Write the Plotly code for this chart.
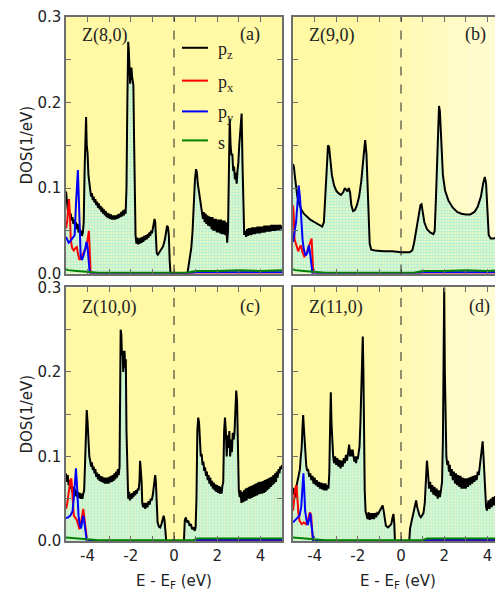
import plotly.graph_objects as go

# ---------------- data (E - E_F in eV, DOS in 1/eV) ----------------
a_pz = [(-5.0, 0.096), (-4.97, 0.088), (-4.93, 0.076), (-4.9, 0.07), (-4.86, 0.075), (-4.82, 0.065), (-4.78, 0.07),
        (-4.74, 0.062), (-4.7, 0.066), (-4.66, 0.058), (-4.62, 0.063), (-4.58, 0.056), (-4.54, 0.06), (-4.5, 0.052),
        (-4.46, 0.058), (-4.42, 0.048), (-4.38, 0.053), (-4.34, 0.046), (-4.3, 0.05), (-4.26, 0.044), (-4.22, 0.048),
        (-4.18, 0.06), (-4.14, 0.12), (-4.1, 0.16), (-4.07, 0.183), (-4.04, 0.15), (-4.0, 0.14), (-3.96, 0.115),
        (-3.92, 0.1), (-3.88, 0.098), (-3.84, 0.09), (-3.8, 0.094), (-3.76, 0.086), (-3.72, 0.09), (-3.68, 0.083),
        (-3.64, 0.087), (-3.6, 0.08), (-3.56, 0.084), (-3.52, 0.077), (-3.48, 0.082), (-3.44, 0.075), (-3.4, 0.079),
        (-3.36, 0.072), (-3.32, 0.077), (-3.28, 0.07), (-3.24, 0.075), (-3.2, 0.068), (-3.16, 0.073), (-3.12, 0.066),
        (-3.08, 0.071), (-3.04, 0.065), (-3.0, 0.07), (-2.96, 0.064), (-2.92, 0.069), (-2.88, 0.063), (-2.84, 0.068),
        (-2.8, 0.063), (-2.76, 0.068), (-2.72, 0.063), (-2.68, 0.068), (-2.64, 0.064), (-2.6, 0.069), (-2.56, 0.065),
        (-2.52, 0.07), (-2.48, 0.066), (-2.44, 0.072), (-2.4, 0.067), (-2.36, 0.074), (-2.32, 0.068), (-2.28, 0.075),
        (-2.24, 0.07), (-2.2, 0.1), (-2.16, 0.2), (-2.12, 0.271), (-2.09, 0.26), (-2.06, 0.23), (-2.03, 0.222),
        (-2.0, 0.235), (-1.97, 0.241), (-1.94, 0.23), (-1.91, 0.225), (-1.88, 0.22), (-1.85, 0.16), (-1.82, 0.08),
        (-1.78, 0.045), (-1.74, 0.035), (-1.7, 0.042), (-1.66, 0.034), (-1.62, 0.041), (-1.58, 0.035), (-1.54, 0.042),
        (-1.5, 0.036), (-1.46, 0.043), (-1.42, 0.037), (-1.38, 0.044), (-1.34, 0.039), (-1.3, 0.045), (-1.26, 0.04),
        (-1.22, 0.046), (-1.18, 0.042), (-1.14, 0.048), (-1.1, 0.044), (-1.06, 0.05), (-1.02, 0.047), (-0.98, 0.053),
        (-0.94, 0.057), (-0.9, 0.064), (-0.87, 0.06), (-0.84, 0.04), (-0.8, 0.024), (-0.75, 0.022), (-0.7, 0.024),
        (-0.6, 0.027), (-0.5, 0.032), (-0.42, 0.04), (-0.36, 0.05), (-0.32, 0.056), (-0.28, 0.054), (-0.24, 0.045),
        (-0.2, 0.015), (-0.16, 0.0), (0.62, 0.0), (0.68, 0.01), (0.74, 0.02), (0.8, 0.03), (0.86, 0.05), (0.92, 0.085),
        (0.97, 0.11), (1.02, 0.122), (1.06, 0.118), (1.1, 0.105), (1.15, 0.095), (1.2, 0.085), (1.25, 0.076),
        (1.3, 0.07), (1.34, 0.064), (1.38, 0.072), (1.42, 0.06), (1.46, 0.07), (1.5, 0.058), (1.54, 0.068),
        (1.58, 0.056), (1.62, 0.067), (1.66, 0.055), (1.7, 0.066), (1.74, 0.052), (1.78, 0.066), (1.82, 0.05),
        (1.86, 0.064), (1.9, 0.05), (1.94, 0.064), (1.98, 0.048), (2.02, 0.063), (2.06, 0.048), (2.1, 0.063),
        (2.14, 0.047), (2.18, 0.063), (2.22, 0.046), (2.26, 0.062), (2.3, 0.046), (2.34, 0.062), (2.38, 0.045),
        (2.42, 0.06), (2.46, 0.036), (2.5, 0.05), (2.54, 0.15), (2.58, 0.181), (2.62, 0.15), (2.66, 0.138),
        (2.7, 0.14), (2.74, 0.12), (2.78, 0.125), (2.82, 0.11), (2.86, 0.118), (2.9, 0.105), (2.94, 0.12),
        (2.98, 0.13), (3.02, 0.15), (3.06, 0.165), (3.1, 0.175), (3.13, 0.187), (3.17, 0.13), (3.21, 0.07),
        (3.25, 0.045), (3.3, 0.05), (3.34, 0.043), (3.38, 0.052), (3.42, 0.044), (3.46, 0.053), (3.5, 0.045),
        (3.54, 0.053), (3.58, 0.045), (3.62, 0.054), (3.66, 0.046), (3.7, 0.054), (3.74, 0.046), (3.78, 0.054),
        (3.82, 0.047), (3.86, 0.055), (3.9, 0.047), (3.94, 0.055), (3.98, 0.047), (4.02, 0.055), (4.06, 0.048),
        (4.1, 0.055), (4.14, 0.048), (4.18, 0.056), (4.22, 0.048), (4.26, 0.056), (4.3, 0.049), (4.34, 0.056),
        (4.38, 0.049), (4.42, 0.056), (4.46, 0.049), (4.5, 0.057), (4.54, 0.05), (4.58, 0.057), (4.62, 0.05),
        (4.66, 0.057), (4.7, 0.05), (4.74, 0.057), (4.78, 0.051), (4.82, 0.057), (4.86, 0.051), (4.9, 0.057),
        (4.94, 0.052), (5.0, 0.056)]
a_px = [(-5.0, 0.053), (-4.95, 0.06), (-4.9, 0.075), (-4.86, 0.087), (-4.82, 0.07), (-4.78, 0.04), (-4.72, 0.03),
        (-4.64, 0.027), (-4.56, 0.03), (-4.5, 0.031), (-4.45, 0.024), (-4.38, 0.016), (-4.3, 0.018), (-4.24, 0.021),
        (-4.16, 0.025), (-4.08, 0.03), (-4.0, 0.04), (-3.94, 0.05), (-3.9, 0.025), (-3.86, 0.0), (0.7, 0.0),
        (1.0, 0.001), (5.0, 0.001)]
a_py = [(-5.0, 0.043), (-4.95, 0.04), (-4.88, 0.036), (-4.8, 0.038), (-4.7, 0.042), (-4.6, 0.045), (-4.54, 0.08),
        (-4.49, 0.112), (-4.45, 0.121), (-4.41, 0.09), (-4.37, 0.04), (-4.32, 0.02), (-4.26, 0.016), (-4.2, 0.02),
        (-4.12, 0.028), (-4.05, 0.037), (-4.0, 0.03), (-3.95, 0.01), (-3.9, 0.0), (0.7, 0.0), (1.0, 0.0015),
        (5.0, 0.0015)]
a_s = [(-5.0, 0.005), (-4.9, 0.004), (-4.5, 0.003), (-4.0, 0.002), (-3.5, 0.001), (0.6, 0.001), (1.0, 0.003),
       (2.0, 0.003), (3.0, 0.004), (4.0, 0.003), (5.0, 0.004)]

b_pz = [(-5.0, 0.128), (-4.96, 0.125), (-4.92, 0.115), (-4.86, 0.1), (-4.8, 0.09), (-4.72, 0.082), (-4.62, 0.075),
        (-4.5, 0.07), (-4.35, 0.066), (-4.2, 0.063), (-4.0, 0.06), (-3.8, 0.057), (-3.65, 0.055), (-3.57, 0.06),
        (-3.5, 0.09), (-3.44, 0.13), (-3.38, 0.15), (-3.33, 0.148), (-3.28, 0.135), (-3.2, 0.115), (-3.1, 0.103),
        (-3.0, 0.097), (-2.9, 0.094), (-2.78, 0.092), (-2.68, 0.095), (-2.6, 0.1), (-2.54, 0.098), (-2.48, 0.096),
        (-2.42, 0.1), (-2.36, 0.095), (-2.3, 0.08), (-2.22, 0.073), (-2.14, 0.074), (-2.04, 0.08), (-1.94, 0.09),
        (-1.84, 0.108), (-1.76, 0.13), (-1.7, 0.152), (-1.66, 0.156), (-1.6, 0.14), (-1.55, 0.1), (-1.5, 0.06),
        (-1.45, 0.035), (-1.38, 0.028), (-1.2, 0.027), (-0.8, 0.026), (-0.4, 0.026), (0.0, 0.025), (0.4, 0.025),
        (0.52, 0.027), (0.6, 0.035), (0.7, 0.05), (0.8, 0.065), (0.9, 0.08), (0.95, 0.081), (1.0, 0.07),
        (1.08, 0.06), (1.2, 0.052), (1.35, 0.048), (1.5, 0.046), (1.56, 0.05), (1.62, 0.09), (1.7, 0.15),
        (1.76, 0.196), (1.8, 0.19), (1.86, 0.15), (1.94, 0.115), (2.04, 0.097), (2.2, 0.085), (2.4, 0.077),
        (2.6, 0.072), (2.8, 0.07), (3.0, 0.069), (3.2, 0.069), (3.4, 0.072), (3.55, 0.078), (3.7, 0.09),
        (3.8, 0.105), (3.88, 0.113), (3.94, 0.105), (4.0, 0.07), (4.06, 0.045), (4.15, 0.041), (4.3, 0.041),
        (4.5, 0.043), (4.8, 0.042)]
b_px = [(-5.0, 0.08), (-4.97, 0.07), (-4.93, 0.04), (-4.88, 0.035), (-4.82, 0.03), (-4.76, 0.026), (-4.7, 0.03),
        (-4.64, 0.033), (-4.56, 0.025), (-4.48, 0.02), (-4.4, 0.022), (-4.3, 0.03), (-4.2, 0.038), (-4.14, 0.041),
        (-4.1, 0.02), (-4.06, 0.0), (0.7, 0.0), (1.0, 0.001), (4.8, 0.001)]
b_py = [(-5.0, 0.037), (-4.94, 0.045), (-4.86, 0.06), (-4.8, 0.08), (-4.74, 0.103), (-4.68, 0.09), (-4.62, 0.06),
        (-4.56, 0.04), (-4.5, 0.028), (-4.42, 0.021), (-4.34, 0.024), (-4.26, 0.033), (-4.2, 0.022), (-4.14, 0.005),
        (-4.1, 0.0), (0.6, 0.0), (1.0, 0.0015), (4.8, 0.0015)]
b_s = [(-5.0, 0.005), (-4.9, 0.004), (-4.5, 0.003), (-4.0, 0.002), (-3.5, 0.001), (0.6, 0.001), (1.0, 0.003),
       (2.0, 0.003), (3.0, 0.004), (4.0, 0.003), (4.8, 0.004)]

c_pz = [(-5.0, 0.08), (-4.96, 0.07), (-4.92, 0.078), (-4.88, 0.066), (-4.84, 0.072), (-4.8, 0.062), (-4.76, 0.068),
        (-4.72, 0.058), (-4.68, 0.064), (-4.64, 0.055), (-4.6, 0.062), (-4.56, 0.053), (-4.52, 0.06), (-4.48, 0.052),
        (-4.44, 0.058), (-4.4, 0.051), (-4.36, 0.057), (-4.32, 0.05), (-4.28, 0.056), (-4.24, 0.05), (-4.2, 0.056),
        (-4.16, 0.06), (-4.12, 0.09), (-4.08, 0.14), (-4.04, 0.155), (-4.0, 0.14), (-3.96, 0.11), (-3.92, 0.1),
        (-3.88, 0.095), (-3.84, 0.088), (-3.8, 0.093), (-3.76, 0.084), (-3.72, 0.088), (-3.68, 0.08), (-3.64, 0.085),
        (-3.6, 0.076), (-3.56, 0.081), (-3.52, 0.073), (-3.48, 0.079), (-3.44, 0.071), (-3.4, 0.077), (-3.36, 0.07),
        (-3.32, 0.076), (-3.28, 0.069), (-3.24, 0.075), (-3.2, 0.068), (-3.16, 0.075), (-3.12, 0.068), (-3.08, 0.075),
        (-3.04, 0.068), (-3.0, 0.076), (-2.96, 0.069), (-2.92, 0.077), (-2.88, 0.07), (-2.84, 0.078), (-2.8, 0.071),
        (-2.76, 0.08), (-2.72, 0.073), (-2.68, 0.082), (-2.64, 0.075), (-2.6, 0.085), (-2.56, 0.078), (-2.52, 0.088),
        (-2.5, 0.15), (-2.47, 0.25), (-2.44, 0.245), (-2.41, 0.22), (-2.38, 0.225), (-2.35, 0.2), (-2.32, 0.22),
        (-2.29, 0.225), (-2.26, 0.205), (-2.23, 0.215), (-2.2, 0.13), (-2.16, 0.07), (-2.12, 0.05), (-2.08, 0.058),
        (-2.04, 0.048), (-2.0, 0.056), (-1.96, 0.05), (-1.92, 0.057), (-1.88, 0.052), (-1.84, 0.059), (-1.8, 0.054),
        (-1.76, 0.06), (-1.72, 0.056), (-1.68, 0.062), (-1.64, 0.06), (-1.6, 0.07), (-1.57, 0.095), (-1.54, 0.085),
        (-1.5, 0.07), (-1.47, 0.045), (-1.43, 0.04), (-1.38, 0.045), (-1.33, 0.038), (-1.28, 0.045), (-1.23, 0.04),
        (-1.18, 0.047), (-1.13, 0.043), (-1.08, 0.05), (-1.03, 0.048), (-0.98, 0.055), (-0.94, 0.062), (-0.9, 0.075),
        (-0.87, 0.078), (-0.84, 0.07), (-0.8, 0.04), (-0.76, 0.022), (-0.7, 0.017), (-0.64, 0.016), (-0.58, 0.02),
        (-0.52, 0.025), (-0.48, 0.03), (-0.44, 0.025), (-0.4, 0.01), (-0.36, 0.0), (0.46, 0.0), (0.5, 0.025),
        (0.55, 0.028), (0.6, 0.022), (0.66, 0.024), (0.72, 0.018), (0.78, 0.02), (0.84, 0.014), (0.9, 0.016),
        (0.96, 0.012), (1.0, 0.016), (1.04, 0.05), (1.08, 0.13), (1.12, 0.146), (1.16, 0.14), (1.2, 0.115),
        (1.24, 0.1), (1.28, 0.103), (1.32, 0.09), (1.36, 0.094), (1.4, 0.083), (1.44, 0.087), (1.48, 0.077),
        (1.52, 0.082), (1.56, 0.072), (1.6, 0.078), (1.64, 0.068), (1.68, 0.075), (1.72, 0.065), (1.76, 0.071),
        (1.8, 0.062), (1.84, 0.069), (1.88, 0.06), (1.92, 0.067), (1.96, 0.058), (2.0, 0.066), (2.04, 0.057),
        (2.08, 0.065), (2.12, 0.056), (2.16, 0.064), (2.2, 0.056), (2.24, 0.065), (2.28, 0.07), (2.32, 0.13),
        (2.36, 0.146), (2.4, 0.13), (2.44, 0.1), (2.48, 0.125), (2.52, 0.11), (2.56, 0.13), (2.6, 0.1),
        (2.64, 0.12), (2.68, 0.105), (2.72, 0.128), (2.76, 0.12), (2.8, 0.128), (2.84, 0.15), (2.88, 0.178),
        (2.92, 0.165), (2.96, 0.11), (3.0, 0.06), (3.04, 0.052), (3.08, 0.06), (3.12, 0.045), (3.16, 0.058),
        (3.2, 0.046), (3.24, 0.06), (3.28, 0.047), (3.32, 0.062), (3.36, 0.048), (3.4, 0.063), (3.44, 0.05),
        (3.48, 0.064), (3.52, 0.05), (3.56, 0.065), (3.6, 0.051), (3.64, 0.066), (3.68, 0.052), (3.72, 0.067),
        (3.76, 0.053), (3.8, 0.068), (3.84, 0.054), (3.88, 0.069), (3.92, 0.055), (3.96, 0.07), (4.0, 0.056),
        (4.04, 0.07), (4.08, 0.056), (4.12, 0.071), (4.16, 0.057), (4.2, 0.072), (4.24, 0.058), (4.28, 0.073),
        (4.32, 0.06), (4.36, 0.074), (4.4, 0.062), (4.44, 0.075), (4.48, 0.064), (4.52, 0.076), (4.56, 0.066),
        (4.6, 0.078), (4.64, 0.068), (4.68, 0.08), (4.72, 0.07), (4.76, 0.082), (4.8, 0.075), (4.84, 0.085),
        (4.88, 0.08), (4.92, 0.088), (4.96, 0.085), (5.0, 0.09)]
c_px = [(-5.0, 0.038), (-4.94, 0.045), (-4.86, 0.06), (-4.8, 0.072), (-4.75, 0.074), (-4.7, 0.05), (-4.64, 0.03),
        (-4.58, 0.028), (-4.5, 0.025), (-4.44, 0.02), (-4.38, 0.014), (-4.32, 0.02), (-4.26, 0.03), (-4.2, 0.038),
        (-4.14, 0.025), (-4.08, 0.01), (-4.02, 0.0), (0.9, 0.0), (1.1, 0.001), (5.0, 0.001)]
c_py = [(-5.0, 0.027), (-4.9, 0.028), (-4.8, 0.03), (-4.7, 0.035), (-4.64, 0.05), (-4.58, 0.075), (-4.54, 0.086),
        (-4.5, 0.07), (-4.46, 0.045), (-4.42, 0.03), (-4.36, 0.018), (-4.3, 0.015), (-4.24, 0.025), (-4.2, 0.03),
        (-4.14, 0.02), (-4.08, 0.005), (-4.04, 0.0), (0.9, 0.0), (1.1, 0.0015), (5.0, 0.0015)]
c_s = [(-5.0, 0.004), (-4.5, 0.003), (-4.0, 0.002), (-3.5, 0.001), (0.9, 0.001), (1.1, 0.003), (2.0, 0.003),
       (3.0, 0.003), (4.0, 0.003), (5.0, 0.003)]

d_pz = [(-5.0, 0.063), (-4.96, 0.055), (-4.92, 0.062), (-4.88, 0.052), (-4.84, 0.065), (-4.8, 0.07), (-4.76, 0.075),
        (-4.72, 0.082), (-4.68, 0.085), (-4.64, 0.1), (-4.6, 0.11), (-4.56, 0.135), (-4.53, 0.149), (-4.5, 0.135),
        (-4.47, 0.12), (-4.43, 0.1), (-4.39, 0.09), (-4.35, 0.083), (-4.3, 0.085), (-4.25, 0.076), (-4.2, 0.08),
        (-4.15, 0.072), (-4.1, 0.077), (-4.05, 0.068), (-4.0, 0.075), (-3.95, 0.066), (-3.9, 0.072), (-3.85, 0.064),
        (-3.8, 0.07), (-3.75, 0.062), (-3.7, 0.069), (-3.65, 0.061), (-3.6, 0.068), (-3.55, 0.06), (-3.5, 0.068),
        (-3.45, 0.06), (-3.4, 0.066), (-3.36, 0.062), (-3.32, 0.08), (-3.28, 0.14), (-3.25, 0.176), (-3.22, 0.14),
        (-3.18, 0.105), (-3.14, 0.1), (-3.1, 0.092), (-3.05, 0.1), (-3.0, 0.09), (-2.95, 0.098), (-2.9, 0.088),
        (-2.85, 0.096), (-2.8, 0.086), (-2.75, 0.095), (-2.7, 0.088), (-2.65, 0.098), (-2.6, 0.092), (-2.55, 0.102),
        (-2.5, 0.095), (-2.45, 0.108), (-2.4, 0.114), (-2.36, 0.1), (-2.32, 0.108), (-2.28, 0.1), (-2.24, 0.108),
        (-2.2, 0.1), (-2.16, 0.094), (-2.12, 0.1), (-2.08, 0.092), (-2.04, 0.1), (-2.0, 0.097), (-1.96, 0.105),
        (-1.92, 0.112), (-1.88, 0.14), (-1.84, 0.17), (-1.8, 0.215), (-1.77, 0.242), (-1.74, 0.2), (-1.71, 0.12),
        (-1.68, 0.06), (-1.64, 0.035), (-1.6, 0.032), (-1.55, 0.026), (-1.5, 0.034), (-1.45, 0.025), (-1.4, 0.033),
        (-1.35, 0.026), (-1.3, 0.033), (-1.25, 0.026), (-1.2, 0.033), (-1.15, 0.028), (-1.1, 0.033), (-1.05, 0.032),
        (-1.0, 0.035), (-0.95, 0.038), (-0.9, 0.04), (-0.85, 0.042), (-0.8, 0.035), (-0.75, 0.022), (-0.7, 0.018),
        (-0.6, 0.016), (-0.5, 0.018), (-0.45, 0.02), (-0.4, 0.027), (-0.35, 0.032), (-0.31, 0.02), (-0.28, 0.0),
        (0.38, 0.0), (0.42, 0.015), (0.48, 0.022), (0.54, 0.03), (0.6, 0.036), (0.65, 0.044), (0.7, 0.048),
        (0.75, 0.04), (0.8, 0.035), (0.86, 0.03), (0.92, 0.028), (0.98, 0.03), (1.04, 0.033), (1.1, 0.045),
        (1.15, 0.08), (1.2, 0.095), (1.25, 0.08), (1.3, 0.062), (1.35, 0.07), (1.4, 0.058), (1.45, 0.066),
        (1.5, 0.055), (1.55, 0.064), (1.6, 0.053), (1.65, 0.062), (1.7, 0.05), (1.75, 0.06), (1.8, 0.052),
        (1.85, 0.06), (1.9, 0.07), (1.94, 0.12), (1.97, 0.2), (2.0, 0.3), (2.03, 0.2), (2.06, 0.14), (2.1, 0.1),
        (2.14, 0.09), (2.18, 0.095), (2.22, 0.082), (2.26, 0.09), (2.3, 0.077), (2.35, 0.085), (2.4, 0.072),
        (2.45, 0.082), (2.5, 0.068), (2.55, 0.08), (2.6, 0.066), (2.65, 0.078), (2.7, 0.064), (2.75, 0.077),
        (2.8, 0.062), (2.85, 0.075), (2.9, 0.062), (2.95, 0.074), (3.0, 0.062), (3.05, 0.074), (3.1, 0.064),
        (3.15, 0.075), (3.2, 0.066), (3.25, 0.076), (3.3, 0.068), (3.35, 0.077), (3.4, 0.07), (3.45, 0.078),
        (3.5, 0.072), (3.55, 0.082), (3.6, 0.078), (3.65, 0.09), (3.7, 0.1), (3.74, 0.115), (3.78, 0.118),
        (3.82, 0.1), (3.86, 0.085), (3.9, 0.06), (3.94, 0.04), (3.98, 0.036), (4.05, 0.048), (4.1, 0.038),
        (4.15, 0.05), (4.2, 0.04), (4.25, 0.052), (4.3, 0.042), (4.35, 0.053), (4.4, 0.043), (4.45, 0.054),
        (4.5, 0.045), (4.55, 0.056), (4.6, 0.047), (4.65, 0.058), (4.7, 0.048), (4.75, 0.058), (4.8, 0.05)]
d_px = [(-5.0, 0.036), (-4.96, 0.05), (-4.9, 0.062), (-4.84, 0.066), (-4.8, 0.05), (-4.75, 0.033), (-4.7, 0.024),
        (-4.6, 0.02), (-4.5, 0.022), (-4.4, 0.02), (-4.3, 0.026), (-4.22, 0.034), (-4.16, 0.03), (-4.12, 0.01),
        (-4.08, 0.0), (1.0, 0.0), (1.2, 0.001), (4.8, 0.001)]
d_py = [(-5.0, 0.022), (-4.9, 0.025), (-4.8, 0.028), (-4.7, 0.03), (-4.62, 0.04), (-4.56, 0.07), (-4.52, 0.08),
        (-4.48, 0.06), (-4.44, 0.036), (-4.38, 0.025), (-4.32, 0.019), (-4.26, 0.025), (-4.2, 0.033),
        (-4.15, 0.02), (-4.1, 0.005), (-4.06, 0.0), (1.0, 0.0), (1.2, 0.0015), (4.8, 0.0015)]
d_s = [(-5.0, 0.004), (-4.5, 0.003), (-4.0, 0.002), (-3.5, 0.001), (1.0, 0.001), (1.2, 0.003), (2.0, 0.003),
       (3.0, 0.003), (4.0, 0.003), (4.8, 0.003)]

panel_names = ["Z(8,0)", "Z(9,0)", "Z(10,0)", "Z(11,0)"]
panel_tags = ["(a)", "(b)", "(c)", "(d)"]
legend_labels = ["p<sub>z</sub>", "p<sub>x</sub>", "p<sub>y</sub>", "s"]
series_colors = ["#000000", "#ff0000", "#0000ff", "#008000"]
y_ticks = [0.0, 0.1, 0.2, 0.3]
y_ticktext = ["0.0", "0.1", "0.2", "0.3"]
x_ticks = [-4, -2, 0, 2, 4]
x_ticktext = ["-4", "-2", "0", "2", "4"]

panels = [(a_pz, a_px, a_py, a_s), (b_pz, b_px, b_py, b_s), (c_pz, c_px, c_py, c_s), (d_pz, d_px, d_py, d_s)]

# ---------------- figure ----------------
fig = go.Figure()
AX = ["", "2", "3", "4"]

for i, series in enumerate(panels):
    xa, ya = "x" + AX[i], "y" + AX[i]
    for j, pts in enumerate(series):
        xs = [p[0] for p in pts]
        ys = [p[1] for p in pts]
        kw = {}
        if j == 0:
            kw = dict(fill="tozeroy",
                      fillpattern=dict(shape=".", fgcolor="#6ee6fa", bgcolor="#f2f8bc", size=3, solidity=0.55))
        fig.add_trace(go.Scatter(x=xs, y=ys, mode="lines", xaxis=xa, yaxis=ya,
                                 line=dict(color=series_colors[j], width=2),
                                 name=legend_labels[j], showlegend=False, hoverinfo="skip", **kw))

AXC = "#6e6e6e"
TF = dict(family="DejaVu Sans", size=15, color="#222222")
SERIF = dict(family="Liberation Serif", size=18, color="#222222")

x_dom = [[0.0, 0.4943], [0.5195, 1.0]]
y_dom = [[0.5104, 1.0], [0.0, 0.4839]]

# the page body adds an 8px offset, so the figure is sized to fit inside the window
layout = dict(width=495, height=583, paper_bgcolor="white", plot_bgcolor="#fff8a4",
              margin=dict(l=58, r=0, t=6, b=50), showlegend=False)

for i in range(4):
    col, row = i % 2, i // 2
    xr = [-5, 5] if col == 0 else [-5, -5 + 210 / 21.6]
    xax = dict(domain=x_dom[col], range=xr, anchor="y" + AX[i], showline=True, linecolor=AXC, linewidth=1.5,
               mirror="ticks", ticks="inside", ticklen=5, tickcolor=AXC, tickwidth=1,
               tickvals=x_ticks, ticktext=x_ticktext, showgrid=False, zeroline=False,
               minor=dict(dtick=1, tick0=0, ticks="inside", ticklen=5, tickcolor=AXC, showgrid=False),
               tickfont=TF, showticklabels=(row == 1))
    if row == 1:
        xax["title"] = dict(text="E - E<sub>F</sub> (eV)", font=dict(family="DejaVu Sans", size=15, color="#222222"),
                            standoff=13)
    yax = dict(domain=y_dom[row], range=[0, 0.3], anchor="x" + AX[i], showline=True, linecolor=AXC, linewidth=1.5,
               mirror=("ticks" if col == 0 else False), ticks="inside", ticklen=5, tickcolor=AXC, tickwidth=1,
               tickvals=y_ticks, ticktext=y_ticktext, showgrid=False, zeroline=False,
               minor=dict(dtick=0.05, tick0=0, ticks="inside", ticklen=5, tickcolor=AXC, showgrid=False),
               tickfont=TF, showticklabels=(col == 0))
    if col == 0:
        yax["title"] = dict(text="DOS(1/eV)", font=dict(family="DejaVu Sans", size=15, color="#222222"),
                            standoff=1)
    layout["xaxis" + AX[i]] = xax
    layout["yaxis" + AX[i]] = yax

fig.update_layout(**layout)

shapes = []
annotations = []
for i in range(4):
    col, row = i % 2, i // 2
    xref, yref = "x" + AX[i], "y" + AX[i]
    # gentle left-to-right fading of the background in the right column
    if col == 1:
        fades = ["#fff8a8", "#fff9ae", "#fff9b4", "#fffaba", "#fffac0", "#fffbc6", "#fffbcc", "#fffcd2"]
        n = len(fades)
        for k, c in enumerate(fades):
            shapes.append(dict(type="rect", xref=xref + " domain", yref=yref + " domain",
                               x0=0.3 + 0.7 * k / n, x1=0.3 + 0.7 * (k + 1) / n, y0=0, y1=1,
                               fillcolor=c, line=dict(width=0), layer="below"))
    shapes.append(dict(type="line", xref=xref, yref=yref + " domain", x0=0, x1=0, y0=0, y1=1,
                       line=dict(color="#222222", width=1, dash="dash")))
    zx = 0.065 if col == 0 else 0.067
    tx = 0.796 if col == 0 else (0.81 if row == 0 else 0.829)
    ty = 0.926 if row == 0 else 0.92
    annotations.append(dict(xref=xref + " domain", yref=yref + " domain", x=zx, y=ty, xanchor="left",
                            yanchor="middle", text=panel_names[i], showarrow=False, font=SERIF))
    annotations.append(dict(xref=xref + " domain", yref=yref + " domain", x=tx, y=ty + 0.005, xanchor="left",
                            yanchor="middle", text=panel_tags[i], showarrow=False, font=SERIF))

# legend drawn inside panel (a)
leg_y = [0.880, 0.752, 0.632, 0.519]
for j in range(4):
    shapes.append(dict(type="line", xref="x domain", yref="y domain", x0=0.537, x1=0.657, y0=leg_y[j],
                       y1=leg_y[j], line=dict(color=series_colors[j], width=2)))
    annotations.append(dict(xref="x domain", yref="y domain", x=0.695, y=leg_y[j] - 0.01, xanchor="left",
                            yanchor="middle", text=legend_labels[j], showarrow=False, font=SERIF))

fig.update_layout(shapes=shapes, annotations=annotations)
fig.write_html("out.html")
